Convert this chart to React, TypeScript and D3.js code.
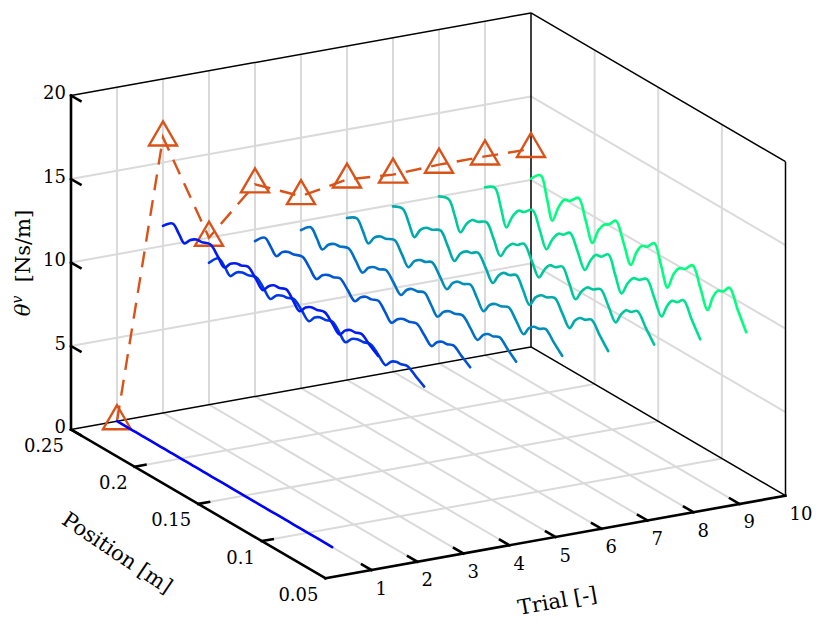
import React from "react";
import * as d3 from "d3";

// ---- data ----
const trials = [1, 2, 3, 4, 5, 6, 7, 8, 9, 10];

// sample positions along each trial's trace [m]
const positions = [
  0.25, 0.2424, 0.2375, 0.2332, 0.2285, 0.2238, 0.2195, 0.2127, 0.207, 0.2017, 0.197, 0.1922, 0.1885,
  0.1833, 0.1772, 0.1715, 0.167, 0.163, 0.1585, 0.1531, 0.1478, 0.1427, 0.138, 0.1335, 0.129, 0.123,
  0.117, 0.1112, 0.107, 0.103, 0.099, 0.0941, 0.0875, 0.0809,
];

const theta1 = [
  0, 0, 0, 0, 0, 0, 0, 0, 0, 0, 0, 0, 0, 0, 0, 0, 0, 0, 0, 0, 0, 0, 0, 0, 0, 0, 0, 0, 0, 0, 0, 0, 0, 0,
];
const theta2 = [
  11.2, 11.68, 11.28, 10.9, 11.32, 11.55, 11.59, 11.75, 11.3, 10.86, 11.3, 11.53, 11.57, 11.74, 11.3,
  10.85, 11.29, 11.52, 11.56, 11.72, 11.29, 10.87, 11.3, 11.52, 11.56, 11.7, 11.29, 10.88, 11.3, 11.52,
  11.55, 11.68, 11.3, 10.95,
];
const theta3 = [
  8.5, 9.1, 8.78, 8.45, 8.88, 9.08, 9.12, 9.28, 8.88, 8.48, 8.9, 9.1, 9.14, 9.3, 8.9, 8.5, 8.92, 9.11,
  9.15, 9.3, 8.91, 8.52, 8.93, 9.11, 9.15, 9.28, 8.92, 8.55, 8.95, 9.12, 9.15, 9.26, 8.94, 8.62,
];
const theta4 = [
  9.3, 9.85, 9.5, 9.15, 9.6, 9.82, 9.86, 10.03, 9.6, 9.18, 9.62, 9.84, 9.88, 10.05, 9.62, 9.2, 9.63,
  9.85, 9.89, 10.05, 9.62, 9.19, 9.62, 9.83, 9.87, 10.03, 9.61, 9.2, 9.62, 9.82, 9.86, 10.0, 9.64, 9.28,
];
const theta5 = [
  9.46, 9.98, 9.52, 9.05, 9.55, 9.8, 9.85, 10.04, 9.55, 9.07, 9.57, 9.82, 9.86, 10.05, 9.56, 9.08,
  9.58, 9.82, 9.87, 10.05, 9.55, 9.06, 9.56, 9.8, 9.85, 10.02, 9.54, 9.07, 9.55, 9.79, 9.83, 10.0, 9.56,
  9.12,
];
const theta6 = [
  9.7, 10.02, 9.47, 8.92, 9.48, 9.76, 9.82, 10.04, 9.47, 8.9, 9.47, 9.75, 9.81, 10.03, 9.48, 8.93,
  9.49, 9.76, 9.82, 10.03, 9.46, 8.9, 9.47, 9.74, 9.8, 10.01, 9.46, 8.92, 9.47, 9.73, 9.79, 10.0, 9.49,
  8.98,
];
const theta7 = [
  9.9, 10.1, 9.45, 8.8, 9.45, 9.79, 9.86, 10.12, 9.45, 8.78, 9.44, 9.78, 9.85, 10.1, 9.46, 8.81, 9.46,
  9.79, 9.86, 10.1, 9.44, 8.78, 9.44, 9.77, 9.84, 10.08, 9.43, 8.79, 9.43, 9.76, 9.83, 10.06, 9.41,
  8.76,
];
const theta8 = [
  10.0, 10.17, 9.38, 8.6, 9.3, 9.75, 9.84, 10.12, 9.36, 8.58, 9.28, 9.74, 9.83, 10.14, 9.4, 8.65, 9.32,
  9.76, 9.84, 10.12, 9.38, 8.62, 9.3, 9.74, 9.82, 10.1, 9.38, 8.64, 9.3, 9.73, 9.81, 10.08, 9.37, 8.66,
];
const theta9 = [
  10.05, 10.37, 9.38, 8.4, 9.25, 9.82, 9.93, 10.35, 9.42, 8.49, 9.3, 9.85, 9.95, 10.3, 9.45, 8.6, 9.38,
  9.88, 9.97, 10.35, 9.4, 8.47, 9.28, 9.8, 9.9, 10.22, 9.36, 8.5, 9.3, 9.8, 9.9, 10.24, 9.36, 8.48,
];
const theta10 = [
  10.07, 10.61, 9.45, 8.31, 9.3, 9.98, 10.1, 10.59, 9.48, 8.37, 9.35, 9.9, 10.08, 10.53, 9.46, 8.4,
  9.38, 9.92, 10.08, 10.53, 9.43, 8.33, 9.34, 9.9, 10.06, 10.55, 9.47, 8.39, 9.36, 9.92, 10.05, 10.49,
  9.45, 8.41,
];
const thetaByTrial = [theta1, theta2, theta3, theta4, theta5, theta6, theta7, theta8, theta9, theta10];

// parameter estimate per trial (orange triangles, drawn at position 0.25)
const thetaEstimate = [0, 16.5, 10.0, 12.7, 11.5, 12.0, 11.8, 11.9, 11.9, 11.85];

const trialTicks = [1, 2, 3, 4, 5, 6, 7, 8, 9, 10];
const positionTicks = [0.25, 0.2, 0.15, 0.1, 0.05];
const positionTickLabels = ["0.25", "0.2", "0.15", "0.1", "0.05"];
const thetaTicks = [0, 5, 10, 15, 20];

// ---- 3D -> screen (orthographic view) ----
const tScale = d3.scaleLinear().domain([0, 10]).range([0, 1]);
const pScale = d3.scaleLinear().domain([0.25, 0.05]).range([0, 1]);
const zScale = d3.scaleLinear().domain([0, 20]).range([0, 1]);
const ORIGIN = [71, 429.5];
const TV = [460, -82.6];
const PV = [254.5, 148.8];
const ZV = [0, -334];

function proj(t: number, p: number, z: number): [number, number] {
  const a = tScale(t);
  const b = pScale(p);
  const c = zScale(z);
  return [ORIGIN[0] + a * TV[0] + b * PV[0] + c * ZV[0], ORIGIN[1] + a * TV[1] + b * PV[1] + c * ZV[1]];
}

const winter = d3.interpolateRgb("#0000ff", "#00ff80");
const ORANGE = "#D95319";
const GRID = "#dadada";
const FONT = "DejaVu Serif, serif";

const seg = (a: [number, number], b: [number, number]) => `M${a[0]},${a[1]}L${b[0]},${b[1]}`;

export default function App() {
  const [t0, t1] = tScale.domain();
  const [pBack, pFront] = pScale.domain();
  const [z0, z1] = zScale.domain();
  const smooth = d3.line().curve(d3.curveCatmullRom.alpha(0.5));
  const straight = d3.line();

  const grid: string[] = [];
  const innerT = trialTicks.filter((t) => t > t0 && t < t1);
  const innerP = positionTicks.filter((p) => p < pBack && p > pFront);
  const innerZ = thetaTicks.filter((z) => z > z0 && z < z1);
  // back wall (position = 0.25)
  innerT.forEach((t) => grid.push(seg(proj(t, pBack, z0), proj(t, pBack, z1))));
  innerZ.forEach((z) => grid.push(seg(proj(t0, pBack, z), proj(t1, pBack, z))));
  // side wall (trial = 10)
  innerP.forEach((p) => grid.push(seg(proj(t1, p, z0), proj(t1, p, z1))));
  innerZ.forEach((z) => grid.push(seg(proj(t1, pBack, z), proj(t1, pFront, z))));
  // floor
  innerT.forEach((t) => grid.push(seg(proj(t, pBack, z0), proj(t, pFront, z0))));
  innerP.forEach((p) => grid.push(seg(proj(t0, p, z0), proj(t1, p, z0))));

  const thinEdges = [
    seg(proj(t0, pBack, z1), proj(t1, pBack, z1)),
    seg(proj(t1, pBack, z1), proj(t1, pFront, z1)),
    seg(proj(t1, pBack, z0), proj(t1, pBack, z1)),
    seg(proj(t1, pFront, z0), proj(t1, pFront, z1)),
    seg(proj(t0, pBack, z0), proj(t1, pBack, z0)),
    seg(proj(t1, pBack, z0), proj(t1, pFront, z0)),
  ];
  const thickEdges = [
    seg(proj(t0, pBack, z0), proj(t0, pBack, z1)),
    seg(proj(t0, pBack, z0), proj(t0, pFront, z0)),
    seg(proj(t0, pFront, z0), proj(t1, pFront, z0)),
  ];

  const tickLen = 11;
  const unit = (v: number[]) => {
    const n = Math.hypot(v[0], v[1]);
    return [v[0] / n, v[1] / n];
  };
  const uT = unit(TV);
  const uP = unit(PV);

  const estPts = trials.map((t, i) => proj(t, pBack, thetaEstimate[i]));

  const posLabel = proj(t0, 0.15, z0);
  const trialLabel = proj(5, pFront, z0);

  return (
    <svg
      width={822}
      height={630}
      style={{ position: "absolute", left: 0, top: 0, background: "#fff", fontFamily: FONT }}
    >
      <rect width={822} height={630} fill="#fff" />
      <g stroke={GRID} strokeWidth={2} fill="none">
        {grid.map((d, i) => (
          <path key={i} d={d} />
        ))}
      </g>
      <g stroke="#000" strokeWidth={1.5} fill="none">
        {thinEdges.map((d, i) => (
          <path key={i} d={d} />
        ))}
      </g>
      <g stroke="#000" strokeWidth={2.6} fill="none" strokeLinecap="square">
        {thickEdges.map((d, i) => (
          <path key={i} d={d} />
        ))}
        {thetaTicks.map((z) => {
          const a = proj(t0, pBack, z);
          return <path key={"zt" + z} d={seg(a, [a[0] + uP[0] * tickLen, a[1] + uP[1] * tickLen])} />;
        })}
        {innerP.map((p) => {
          const a = proj(t0, p, z0);
          return <path key={"pt" + p} d={seg(a, [a[0] + uT[0] * tickLen, a[1] + uT[1] * tickLen])} />;
        })}
        {innerT.map((t) => {
          const a = proj(t, pFront, z0);
          return <path key={"tt" + t} d={seg(a, [a[0] - uP[0] * tickLen, a[1] - uP[1] * tickLen])} />;
        })}
      </g>

      {/* tick labels */}
      <g fontSize={18} fill="#000">
        {thetaTicks.map((z) => {
          const a = proj(t0, pBack, z);
          return (
            <text key={"zl" + z} x={a[0] - 5} y={a[1] - 3} textAnchor="end" dominantBaseline="central">
              {z}
            </text>
          );
        })}
        {positionTicks.map((p, i) => {
          const a = proj(t0, p, z0);
          return (
            <text key={"pl" + p} x={a[0] - 7} y={a[1] + 16} textAnchor="end" dominantBaseline="central">
              {positionTickLabels[i]}
            </text>
          );
        })}
        {trialTicks.map((t) => {
          const a = proj(t, pFront, z0);
          return (
            <text key={"tl" + t} x={a[0] + 4} y={a[1] + 18} textAnchor="start" dominantBaseline="central">
              {t}
            </text>
          );
        })}
      </g>

      {/* axis titles */}
      <g fontSize={21} fill="#000">
        <text
          transform={`translate(${posLabel[0] - 81},${posLabel[1] + 49}) rotate(34)`}
          textAnchor="middle"
          dominantBaseline="central"
        >
          Position [m]
        </text>
        <text
          transform={`translate(${trialLabel[0] + 2},${trialLabel[1] + 64}) rotate(-10.2)`}
          textAnchor="middle"
          dominantBaseline="central"
        >
          Trial [-]
        </text>
        <text transform="translate(30,263) rotate(-90)" textAnchor="middle">
          <tspan fontStyle="italic">θ</tspan>
          <tspan fontStyle="italic" fontSize={14} dy={-8}>
            v
          </tspan>
          <tspan dy={8}>{"\u00a0\u00a0[Ns/m]"}</tspan>
        </text>
      </g>

      {/* parameter estimate */}
      <path d={straight(estPts)!} fill="none" stroke={ORANGE} strokeWidth={2.4} strokeDasharray="16 10" />
      <g fill="none" stroke={ORANGE} strokeWidth={2.4} strokeLinejoin="miter">
        {estPts.map((pt, i) => (
          <path key={i} d={`M${pt[0]},${pt[1] - 16}L${pt[0] + 14},${pt[1] + 8}L${pt[0] - 14},${pt[1] + 8}Z`} />
        ))}
      </g>

      {/* traces, far trials first */}
      <g fill="none" strokeWidth={2.6} strokeLinejoin="round" strokeLinecap="round">
        {trials
          .slice()
          .reverse()
          .map((t) => {
            const vals = thetaByTrial[t - 1];
            const pts = positions.map((p, j) => proj(t, p, vals[j]));
            return <path key={t} d={smooth(pts)!} stroke={winter((t - 1) / (trials.length - 1))} />;
          })}
      </g>
    </svg>
  );
}
